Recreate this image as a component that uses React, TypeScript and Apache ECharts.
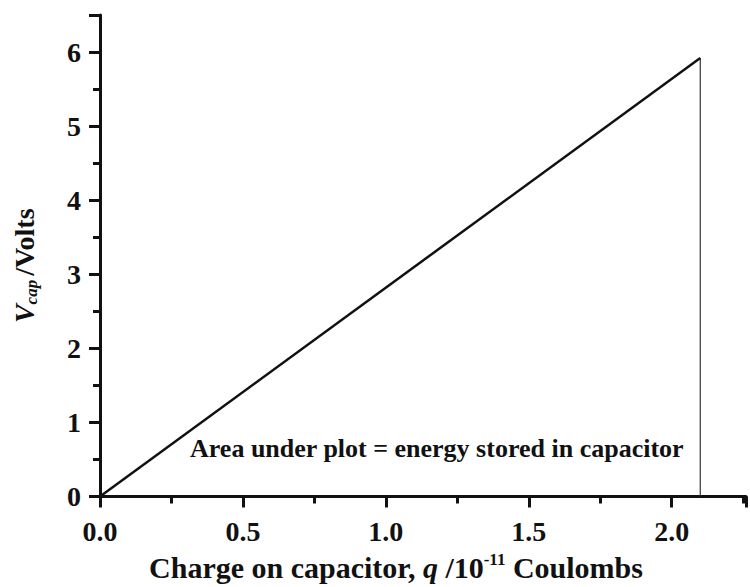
import React, { useEffect, useRef } from "react";
import * as echarts from "echarts";

const lineData: [number, number][] = [
  [0, 0],
  [2.1, 5.92],
];
const dropData: [number, number][] = [
  [2.1, 5.92],
  [2.1, 0],
];
const xRange = [0, 2.26];
const yRange = [0, 6.5];
const annotation = "Area under plot = energy stored in capacitor";

const FONT = "'Liberation Serif', 'Times New Roman', serif";

export default function App() {
  const ref = useRef<HTMLDivElement>(null);
  useEffect(() => {
    if (!ref.current) return;
    const chart = echarts.init(ref.current, undefined, { renderer: "svg" });
    const labelStyle = {
      fontFamily: FONT,
      fontWeight: "bold" as const,
      fontSize: 28,
      color: "#111",
    };
    chart.setOption({
      animation: false,
      backgroundColor: "#fff",
      grid: { left: 100, top: 15, right: 4, bottom: 86 },
      xAxis: {
        type: "value",
        min: xRange[0],
        max: xRange[1],
        interval: 0.5,
        splitLine: { show: false },
        axisLine: { lineStyle: { color: "#111", width: 3 } },
        axisTick: { length: 11, lineStyle: { color: "#111", width: 3 } },
        minorTick: { show: true, splitNumber: 2, length: 7, lineStyle: { color: "#111", width: 3 } },
        axisLabel: {
          ...labelStyle,
          margin: 21,
          formatter: (v: number) => (Math.abs(v / 0.5 - Math.round(v / 0.5)) < 1e-6 ? v.toFixed(1) : ""),
        },
        name: "{b|Charge on capacitor, }{i|q}{b| /10}{sup|-11}{b| Coulombs}",
        nameLocation: "middle",
        nameGap: 54,
        nameTextStyle: {
          padding: [0, 54, 0, 0],
          rich: {
            b: { fontFamily: FONT, fontWeight: "bold", fontSize: 30, color: "#111" },
            i: { fontFamily: FONT, fontWeight: "bold", fontStyle: "italic", fontSize: 30, color: "#111" },
            sup: { fontFamily: FONT, fontWeight: "bold", fontSize: 17, color: "#111", verticalAlign: "top", padding: [0, 0, 16, 0] },
          },
        },
      },
      yAxis: {
        type: "value",
        min: yRange[0],
        max: yRange[1],
        interval: 1,
        splitLine: { show: false },
        axisLine: { lineStyle: { color: "#111", width: 3 } },
        axisTick: { length: 11, lineStyle: { color: "#111", width: 3 } },
        minorTick: { show: true, splitNumber: 2, length: 7, lineStyle: { color: "#111", width: 3 } },
        axisLabel: {
          ...labelStyle,
          margin: 19,
          formatter: (v: number) => (Math.abs(v - Math.round(v)) < 1e-6 ? String(Math.round(v)) : ""),
        },
        name: "{i|V}{sub|cap}{b|/Volts}",
        nameLocation: "middle",
        nameGap: 60,
        nameRotate: 90,
        nameTextStyle: {
          padding: [0, 20, 0, 0],
          rich: {
            b: { fontFamily: FONT, fontWeight: "bold", fontSize: 28, color: "#111" },
            i: { fontFamily: FONT, fontWeight: "bold", fontStyle: "italic", fontSize: 28, color: "#111" },
            sub: { fontFamily: FONT, fontWeight: "bold", fontStyle: "italic", fontSize: 17, color: "#111", padding: [14, 4, 0, 0] },
          },
        },
      },
      series: [
        {
          type: "line",
          data: lineData,
          symbol: "none",
          lineStyle: { color: "#111", width: 2.5 },
          z: 3,
        },
        {
          type: "line",
          data: dropData,
          symbol: "none",
          lineStyle: { color: "#333", width: 1.2 },
          z: 2,
        },
      ],
      graphic: [
        {
          type: "text",
          left: 190,
          top: 435,
          style: {
            text: annotation,
            fontFamily: FONT,
            fontWeight: "bold",
            fontSize: 26,
            fill: "#111",
          },
        },
      ],
    });
    return () => chart.dispose();
  }, []);
  return <div ref={ref} style={{ width: 750, height: 587, position: "absolute", left: 0, top: 0 }} />;
}
